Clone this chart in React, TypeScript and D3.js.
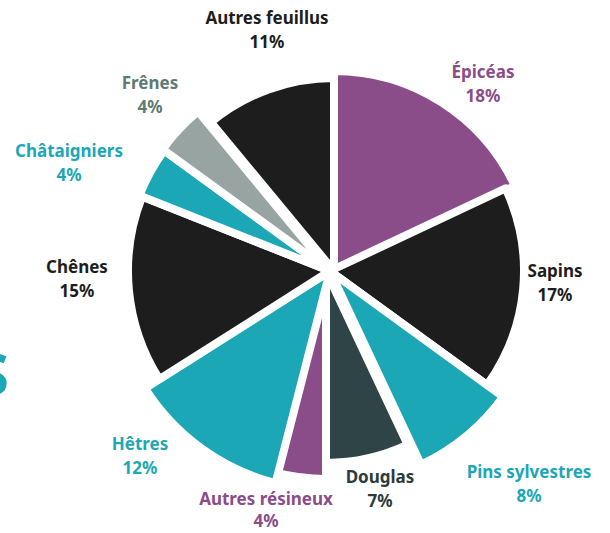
import React from "react";
import * as d3 from "d3";

const categories = [
  "Épicéas",
  "Sapins",
  "Pins sylvestres",
  "Douglas",
  "Autres résineux",
  "Hêtres",
  "Chênes",
  "Châtaigniers",
  "Frênes",
  "Autres feuillus",
];
const values = [18, 17, 8, 7, 4, 12, 15, 4, 4, 11];
const percentLabels = ["18%", "17%", "8%", "7%", "4%", "12%", "15%", "4%", "4%", "11%"];

// styling / layout (not data)
const fills = ["#8b4c8a", "#1d1d1d", "#1ca7b6", "#2f4447", "#8b4c8a", "#1ca7b6", "#1d1d1d", "#1ca7b6", "#97a4a1", "#1d1d1d"];
const textColors = ["#8b4c8a", "#1d1d1d", "#1ca7b6", "#2b3b3c", "#8b4c8a", "#1ca7b6", "#1d1d1d", "#1ca7b6", "#5f7a72", "#1d1d1d"];
const outerRadii = [196, 190, 210, 188, 204, 215, 198, 201, 203, 189];
const sliceShiftX = [4, 0, 0, -4, -4, 0, 0, 0, 0, 4];
const labelPos: [number, number][] = [
  [483, 78],
  [555, 277],
  [529, 478],
  [380, 483],
  [266, 505],
  [140, 450],
  [77, 273],
  [69, 157],
  [150, 89],
  [267, 24],
];

const W = 610;
const H = 533;
const cx = 330;
const cy = 271;
const GAP = 8;

export default function App() {
  const pie = d3.pie<number>().sort(null).value((d) => d)(values);
  return (
    <svg width={W} height={H} style={{ position: "absolute", left: 0, top: 0, background: "#fff" }}
      fontFamily="'Noto Sans', sans-serif" fontWeight={700}>
      <rect width={W} height={H} fill="#fff" />
      <text x={9} y={395} textAnchor="end" fontSize={58} fill="#1ca7b6">S</text>
      {pie.map((p, i) => {
        const arc = d3.arc<d3.PieArcDatum<number>>().innerRadius(0).outerRadius(outerRadii[i] + GAP / 2);
        return (
          <path key={categories[i]} d={arc(p) || ""} transform={`translate(${cx + sliceShiftX[i]},${cy})`}
            fill={fills[i]} stroke="#fff" strokeWidth={GAP} strokeLinejoin="round" />
        );
      })}
      {categories.map((c, i) => (
        <g key={c} fill={textColors[i]} fontSize={17} textAnchor="middle">
          <text x={labelPos[i][0]} y={labelPos[i][1]}>{c}</text>
          <text x={labelPos[i][0]} y={labelPos[i][1] + (i === 4 ? 22 : 24)}>{percentLabels[i]}</text>
        </g>
      ))}
    </svg>
  );
}
